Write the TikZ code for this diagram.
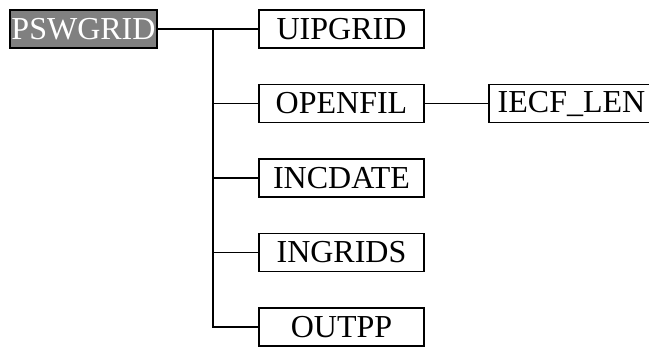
\documentclass[tikz,border=0pt]{standalone}
\usepackage{fontspec}
\setmainfont{Liberation Serif}
\begin{document}
\begin{tikzpicture}[x=0.75pt,y=-0.75pt,node distance=55.875pt,line width=1.2pt,
  box/.style={draw,minimum width=123.75pt,minimum height=28.5pt,inner sep=0pt,font=\fontsize{24}{24}\selectfont},
  root/.style={box,fill=gray,text=white,minimum width=110.25pt}]
  \useasboundingbox (0,0) rectangle (649,347);
  \node[root] (pswgrid) at (83.5,29) {PSWGRID};
  \node[box]  (uipgrid) at (341.5,29)  {UIPGRID};
  \node[box]  (openfil) [below of=uipgrid] {OPENFIL};
  \node[box]  (incdate) [below of=openfil] {INCDATE};
  \node[box]  (ingrids) [below of=incdate] {INGRIDS};
  \node[box]  (outpp)   [below of=ingrids] {OUTPP};
  \node[box]  (iecflen) [right of=openfil, node distance=172.5pt] {IECF\_LEN};

  \coordinate (trunk) at (213,29);
  \draw (pswgrid) -- (uipgrid)
        (openfil) -- (iecflen);
  \foreach \n in {openfil,incdate,ingrids,outpp}
    \draw (trunk) |- (\n.west);
\end{tikzpicture}
\end{document}
